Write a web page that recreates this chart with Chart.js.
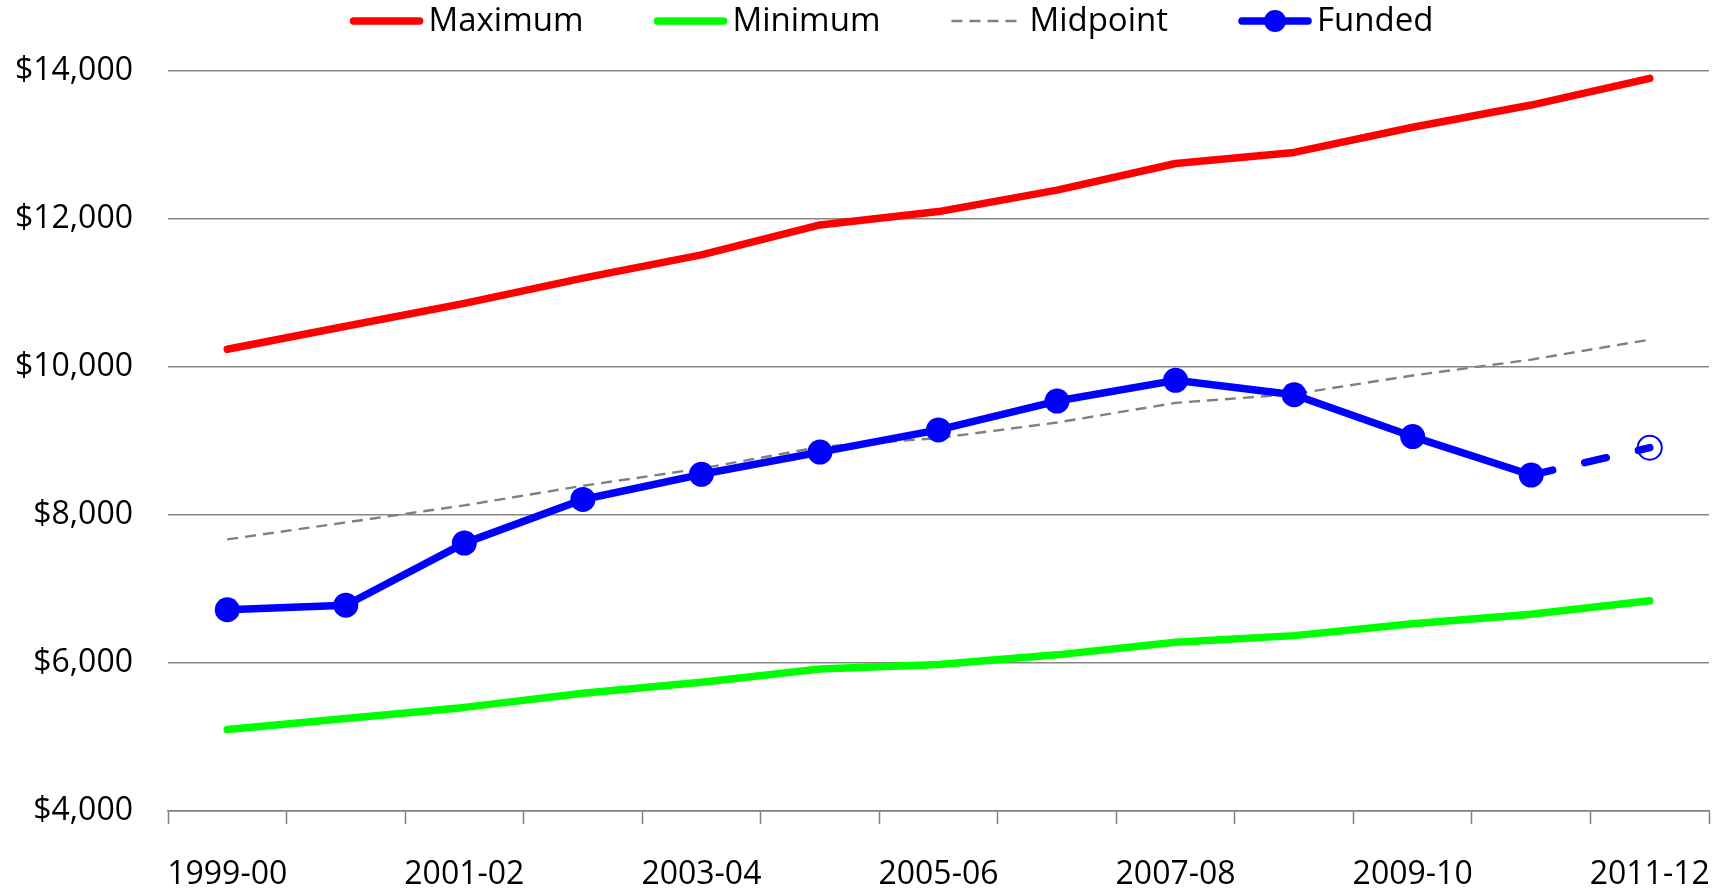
<!DOCTYPE html>
<html><head><meta charset="utf-8">
<script src="https://cdn.jsdelivr.net/npm/chart.js@4.4.0/dist/chart.umd.min.js"></script>
<style>html,body{margin:0;padding:0;background:#fff;}#wrap{width:1731px;height:889px;}</style>
</head><body><div id="wrap"><canvas id="c" width="1731" height="889" style="width:1731px;height:889px"></canvas></div>
<script>
const categories = ['1999-00','2000-01','2001-02','2002-03','2003-04','2004-05','2005-06','2006-07','2007-08','2008-09','2009-10','2010-11','2011-12'];
const maximumValues = [10240,10550,10860,11200,11515,11920,12100,12390,12750,12900,13240,13540,13900];
const minimumValues = [5100,5250,5400,5590,5740,5920,5980,6110,6280,6370,6530,6660,6840];
const midpointValues = [7670,7900,8130,8395,8628,8920,9040,9250,9515,9635,9885,10100,10370];
const fundedValues = [6720,6780,7620,8210,8550,8850,9150,9540,9820,9625,9060,8540,8910];
const yTicks = [4000,6000,8000,10000,12000,14000];
const seriesNames = ['Maximum','Minimum','Midpoint','Funded'];

const FONT = 'Open Sans';
const lastIdx = fundedValues.length - 1;

const legendPlugin = {
  id: 'customLegend',
  afterDraw(chart) {
    const ctx = chart.ctx;
    ctx.save();
    ctx.font = '33px "' + FONT + '"';
    ctx.textBaseline = 'middle';
    const items = [
      {label: seriesNames[0], color: '#ff0000', w: 7.5, dash: []},
      {label: seriesNames[1], color: '#00ff00', w: 7.5, dash: []},
      {label: seriesNames[2], color: '#808080', w: 2.5, dash: [11, 7]},
      {label: seriesNames[3], color: '#0000ff', w: 7.5, dash: [], marker: true}
    ];
    const lineLen = 72, gapText = 6, gapItem = 71;
    let total = 0;
    items.forEach((it, i) => { it.tw = ctx.measureText(it.label).width; total += lineLen + gapText + it.tw + (i < items.length - 1 ? gapItem : 0); });
    let x = 892 - total / 2;
    const y = 21;
    items.forEach(it => {
      ctx.beginPath();
      ctx.strokeStyle = it.color;
      ctx.lineWidth = it.w;
      ctx.lineCap = it.dash.length ? 'butt' : 'round';
      ctx.setLineDash(it.dash);
      ctx.moveTo(x + (it.dash.length ? 0 : 3), y);
      ctx.lineTo(x + lineLen - (it.dash.length ? 0 : 3), y);
      ctx.stroke();
      ctx.setLineDash([]);
      if (it.marker) {
        ctx.beginPath();
        ctx.fillStyle = it.color;
        ctx.arc(x + lineLen / 2, y, 11, 0, Math.PI * 2);
        ctx.fill();
      }
      ctx.fillStyle = '#000';
      ctx.fillText(it.label, x + lineLen + gapText, y + 1);
      x += lineLen + gapText + it.tw + gapItem;
    });
    ctx.restore();
  }
};

const tickFont = {family: FONT, size: 32};

new Chart(document.getElementById('c'), {
  type: 'line',
  data: {
    labels: categories,
    datasets: [
      {label: seriesNames[3], data: fundedValues, order: 1, borderColor: '#0000ff', borderWidth: 7.5,
       borderCapStyle: 'round', borderJoinStyle: 'round', tension: 0,
       pointRadius: fundedValues.map((v, i) => i === lastIdx ? 12 : 12.5),
       pointHoverRadius: fundedValues.map((v, i) => i === lastIdx ? 12 : 12.5),
       pointBackgroundColor: fundedValues.map((v, i) => i === lastIdx ? 'rgba(0,0,0,0)' : '#0000ff'),
       pointBorderColor: '#0000ff',
       pointBorderWidth: fundedValues.map((v, i) => i === lastIdx ? 2 : 0),
       segment: { borderDash: c => c.p1DataIndex === lastIdx ? [22, 33] : undefined }
      },
      {label: seriesNames[2], data: midpointValues, order: 2, borderColor: '#808080', borderWidth: 2.4,
       borderDash: [11, 7], pointRadius: 0, tension: 0},
      {label: seriesNames[1], data: minimumValues, order: 3, borderColor: '#00ff00', borderWidth: 7.5,
       borderCapStyle: 'round', borderJoinStyle: 'round', pointRadius: 0, tension: 0},
      {label: seriesNames[0], data: maximumValues, order: 4, borderColor: '#ff0000', borderWidth: 7.5,
       borderCapStyle: 'round', borderJoinStyle: 'round', pointRadius: 0, tension: 0}
    ]
  },
  options: {
    responsive: false,
    animation: false,
    devicePixelRatio: 1,
    layout: {padding: {top: 71, right: 22, left: 0, bottom: 0}},
    plugins: {legend: {display: false}, tooltip: {enabled: false}},
    scales: {
      x: {
        offset: true,
        grid: {display: true, drawOnChartArea: false, drawTicks: true, tickLength: 13, tickColor: '#7f7f7f', tickWidth: 1.5, offset: true},
        border: {display: true, color: '#7f7f7f', width: 1.5},
        ticks: {autoSkip: false, maxRotation: 0, minRotation: 0, padding: 32, color: '#000', font: tickFont,
                callback: (v, i) => (i % 2 === 0 ? categories[i] : '')},
        afterFit: s => { s.height = 78; s.paddingLeft = 0; s.paddingRight = 0; }
      },
      y: {
        min: 4000, max: 14000,
        afterBuildTicks: s => { s.ticks = yTicks.map(v => ({value: v})); },
        grid: {color: '#868686', lineWidth: 1.5, drawTicks: false},
        border: {display: false},
        ticks: {padding: 35, color: '#000', font: tickFont,
                callback: v => '$' + Number(v).toLocaleString('en-US')},
        afterFit: s => { s.width = 168; }
      }
    }
  },
  plugins: [legendPlugin]
});
</script>
</body></html>
